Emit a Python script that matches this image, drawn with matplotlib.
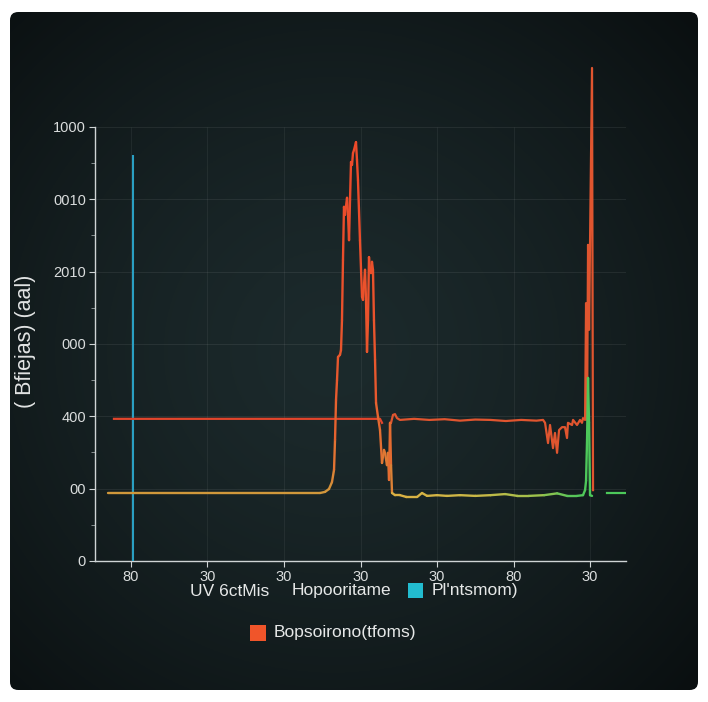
import numpy as np
import matplotlib
matplotlib.use("Agg")
import matplotlib.pyplot as plt
from matplotlib.collections import LineCollection
from matplotlib.colors import LinearSegmentedColormap
from matplotlib.patches import FancyBboxPatch, Rectangle

plt.rcParams['font.family'] = ['Liberation Sans', 'DejaVu Sans']

# ---- data -------------------------------------------------------------
x_ticks = [0, 10, 20, 30, 40, 50, 60]
x_tick_labels = ["80", "30", "30", "30", "30", "80", "30"]
y_ticks = [0, 200, 400, 600, 800, 1000, 1200]
y_tick_labels = ["0", "00", "400", "000", "2010", "0010", "1000"]

# reference marker (vertical line)
marker_x = 0.26
marker_top = 1122

# main elution trace: baseline, peak, drop
peak_x = [-3.0, 24.71, 25.36, 25.88, 26.27, 26.54, 26.67, 26.80, 26.93, 27.06,
          27.32, 27.45, 27.58, 27.71, 27.84, 27.97, 28.24, 28.37, 28.50, 28.63,
          28.76, 28.89, 29.02, 29.15, 29.41, 29.54, 29.67, 29.93, 30.20, 30.33,
          30.59, 30.72, 30.85, 30.98, 31.11, 31.24, 31.37, 31.50, 31.63, 31.76,
          31.90, 32.03, 32.29, 32.55, 32.81, 33.07, 33.20, 33.46, 33.59, 33.73,
          33.86, 33.99, 34.12]
peak_y = [188, 188, 191, 199, 218, 252, 335, 445, 500, 564,
          570, 583, 666, 832, 979, 957, 1004, 957, 887, 998,
          1103, 1095, 1128, 1136, 1158, 1109, 1053, 887, 730, 722,
          805, 722, 578, 666, 840, 805, 796, 827, 805, 666,
          556, 437, 398, 362, 271, 307, 299, 265, 299, 224,
          382, 265, 188]

# trailing baseline of the same trace, ending in a sharp spike
tail_x = [34.51, 35.16, 36.0, 37.4, 38.04, 38.7, 40.0, 41.3, 43.0, 45.0,
          47.0, 48.9, 50.5, 52.0, 54.0, 55.7, 57.0, 58.3, 59.08, 59.35,
          59.48, 59.61, 59.74, 59.87, 60.00, 60.26]
tail_y = [182, 182, 177, 177, 188, 180, 182, 180, 182, 180,
          182, 185, 180, 180, 182, 187, 180, 180, 182, 196,
          222, 335, 506, 382, 182, 180]

# short segment after the spike
end_x = [62.22, 64.58]
end_y = [188, 188]

# second trace: plateau, then noisy level with final spikes
plateau_x = [-2.22, 32.55, 32.81]
plateau_y = [393, 393, 382]
level_x = [33.99, 34.25, 34.51, 34.77, 35.16, 37, 39, 41, 43, 45,
           47, 49, 51, 53, 53.86, 54.12, 54.51, 54.77, 55.16, 55.42,
           55.69, 55.95, 56.34, 56.73, 56.99, 57.12, 57.65, 57.78, 58.30, 58.69,
           58.95, 59.08, 59.35, 59.48, 59.61, 59.74, 59.87, 60.26, 60.39]
level_y = [382, 404, 406, 395, 390, 393, 390, 392, 388, 391,
           390, 387, 390, 388, 390, 382, 326, 376, 312, 354,
           299, 362, 370, 370, 340, 382, 376, 390, 376, 390,
           382, 395, 390, 713, 390, 874, 639, 1363, 196]

legend_row1 = ["UV 6ctMis", "Hopooritame", "Pl'ntsmom)"]
legend_row2 = "Bopsoirono(tfoms)"
y_label = "( Bfiejas) (aal)"

# ---- figure & dark panel ---------------------------------------------
W, H = 708, 702
fig = plt.figure(figsize=(W / 100, H / 100), dpi=100, facecolor="white")

bg = fig.add_axes([10 / W, 1 - 690 / H, 688 / W, 678 / H])
bg.set_axis_off()
yy, xx = np.mgrid[0:1:400j, 0:1:400j]
r = np.hypot((xx - 0.47) / 0.78, (yy - 0.50) / 0.78)
t = np.clip(r, 0, 1) ** 1.4
c_in = np.array([28, 42, 44]) / 255
c_out = np.array([8, 12, 13]) / 255
img = c_in * (1 - t[..., None]) + c_out * t[..., None]
im = bg.imshow(img, extent=[0, 1, 0, 1], origin="lower", aspect="auto")
frame = FancyBboxPatch((0, 0), 1, 1, boxstyle="round,pad=0,rounding_size=0.012",
                       transform=bg.transAxes, facecolor="none", edgecolor="none")
bg.add_patch(frame)
im.set_clip_path(frame)
bg.set_xlim(0, 1)
bg.set_ylim(0, 1)

# ---- main axes --------------------------------------------------------
ax = fig.add_axes([95 / W, 1 - 561 / H, 531 / W, 501 / H])
ax.set_facecolor("none")
ax.set_xlim(-4.7, 64.7)
ax.set_ylim(0, 1385)

for side in ("top", "right"):
    ax.spines[side].set_visible(False)
for side in ("left", "bottom"):
    ax.spines[side].set_color("#cfd4d5")
    ax.spines[side].set_linewidth(1.0)
ax.spines["left"].set_bounds(0, 1200)

ax.set_xticks(x_ticks)
ax.set_xticklabels(x_tick_labels)
ax.set_yticks(y_ticks)
ax.set_yticklabels(y_tick_labels)
ax.set_yticks([100, 300, 500, 700, 900, 1100], minor=True)
ax.tick_params(axis="both", which="major", colors="#cfd4d5", labelcolor="#dadddd",
               labelsize=10.5, length=4, width=0.8, pad=2.5)
ax.tick_params(axis="y", which="minor", colors="#9aa2a3", length=3, width=0.6)
ax.grid(True, axis="y", which="major", color="white", alpha=0.07, linewidth=0.8)
ax.vlines(x_ticks, 0, 1200, color="white", alpha=0.06, linewidth=0.8, zorder=1)
ax.set_axisbelow(True)

# reference marker
ax.vlines(marker_x, 0, marker_top, color="#2a9fc2", linewidth=1.5, zorder=3)

# second trace
ax.plot(plateau_x, plateau_y, color="#e2452c", linewidth=1.6, zorder=4)
ax.plot(level_x, level_y, color="#e0552f", linewidth=1.6, zorder=4,
        solid_joinstyle="round")

# main trace with colour varying along its course
tr_x = np.array(peak_x + tail_x)
tr_y = np.array(peak_y + tail_y, dtype=float)
pts = np.column_stack([tr_x, tr_y]).reshape(-1, 1, 2)
segs = np.concatenate([pts[:-1], pts[1:]], axis=1)

peak_cmap = LinearSegmentedColormap.from_list(
    "peak", [(0.0, "#cf9a3c"), (0.12, "#e07a34"), (0.35, "#e85a2e"), (1.0, "#ec4a2a")])
tail_cmap = LinearSegmentedColormap.from_list(
    "tail", [(0.0, "#dcb043"), (0.45, "#c9b847"), (0.75, "#9cc24c"), (0.92, "#58c65a"),
             (1.0, "#4cc85a")])
seg_colors = []
for (x0, y0), (x1, y1) in zip(pts[:-1, 0], pts[1:, 0]):
    xm, ym = 0.5 * (x0 + x1), max(y0, y1)
    if xm < 34.2:
        seg_colors.append(peak_cmap(np.clip((ym - 180) / 900, 0, 1)))
    else:
        seg_colors.append(tail_cmap(np.clip((xm - 34.2) / (59.8 - 34.2), 0, 1)))
lc = LineCollection(segs, colors=seg_colors, linewidths=1.7, zorder=5,
                    capstyle="round", joinstyle="round")
ax.add_collection(lc)

ax.plot(end_x, end_y, color="#4cc85a", linewidth=1.6, zorder=5)

# ---- labels & legend --------------------------------------------------
fig.text(25 / W, 1 - 341 / H, y_label, rotation=90, ha="center", va="center",
         color="#e2e4e4", fontsize=15.5)

text_kw = dict(color="#e6e8e8", fontsize=12.5, va="center", ha="left")
fig.text(190 / W, 1 - 591 / H, legend_row1[0], **text_kw)
fig.text(292 / W, 1 - 591 / H, legend_row1[1], **text_kw)
fig.patches.append(Rectangle((408 / W, 1 - 598 / H), 15 / W, 15 / H,
                             transform=fig.transFigure, facecolor="#22bcd0",
                             edgecolor="none"))
fig.text(432 / W, 1 - 591 / H, legend_row1[2], **text_kw)

fig.patches.append(Rectangle((250 / W, 1 - 641 / H), 16 / W, 16 / H,
                             transform=fig.transFigure, facecolor="#f0552a",
                             edgecolor="none"))
fig.text(274 / W, 1 - 633 / H, legend_row2, **text_kw)

fig.savefig("out.png", dpi=100, facecolor=fig.get_facecolor())
